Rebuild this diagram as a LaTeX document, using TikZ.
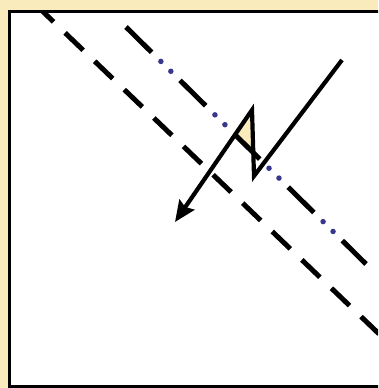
\documentclass[tikz,border=0pt]{standalone}
\usepackage{tikz}
\usetikzlibrary{arrows.meta}
\definecolor{BG}{RGB}{250,235,188}
\definecolor{DB}{RGB}{55,55,140}

\begin{document}
\begin{tikzpicture}[x=1pt, y=-1pt,
  frame/.style={draw=black, line width=3.5pt, fill=white},
  lowline/.style={draw=black, line width=5pt, dash pattern=on 25pt off 16pt},
  highline/.style={draw=black, line width=5pt, dash pattern=on 36pt off 40pt},
  highdots/.style={draw=DB, line width=5.5pt, line cap=round,
                   dash pattern=on 0pt off 14pt on 0pt off 62pt, dash phase=27pt},
  bolt/.style={draw=black, line width=4.2pt, miter limit=20,
               -{Stealth[length=21pt, width=18pt, inset=3pt]}}
]
\clip (0,0) rectangle (378,388);
\fill[BG] (0,0) rectangle (378,388);

% box
\coordinate (boxA) at (9.5,11.5);
\coordinate (boxB) at (390,386.5);
\draw[frame] (boxA) rectangle (boxB);

% lower dashed line
\coordinate (lowS) at (35.5,4.5);
\coordinate (lowE) at (400,354);
\begin{scope}
  \clip (11.3,13.3) rectangle (390,384.7);
  \draw[lowline] (lowS) -- (lowE);
\end{scope}

% upper line, dashes and dots
\coordinate (highS) at (126,27);
\coordinate (highE) at (366,264);

% zigzag
\coordinate (zA) at (342,60);
\coordinate (zB) at (254,176);
\coordinate (zC) at (252,110);
\coordinate (zD) at (175,222);
\coordinate (cutL) at (intersection of zC--zD and highS--highE);
\coordinate (cutR) at (intersection of zB--zC and highS--highE);
\fill[BG] (zC) -- (cutL) -- (cutR) -- cycle;

\draw[highdots] (highS) -- (highE);
\draw[highline] (highS) -- (highE);

\draw[bolt] (zA) -- (zB) -- (zC) -- (zD);
\end{tikzpicture}
\end{document}
